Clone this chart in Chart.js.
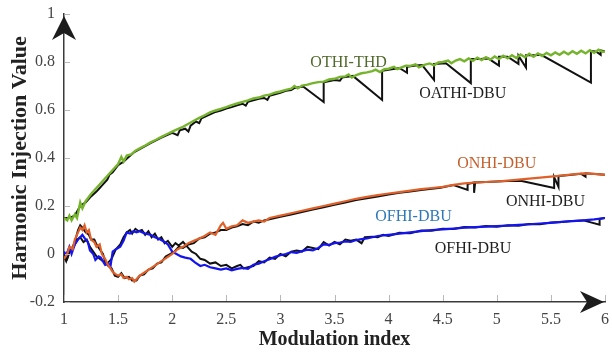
<!DOCTYPE html>
<html>
<head>
<meta charset="utf-8">
<script src="https://cdn.jsdelivr.net/npm/chart.js@4.4.0/dist/chart.umd.min.js"></script>
<style>
  html, body { margin: 0; padding: 0; background: #fff; }
</style>
</head>
<body>
<canvas id="hiChart" width="612" height="352"></canvas>
<script>
// OTHI-THD (green)
var thdX = [1.00,1.03,1.05,1.07,1.10,1.12,1.15,1.17,1.20,1.25,1.30,1.35,1.40,1.45,1.50,1.53,1.55,1.58,1.62,1.66,1.70,1.75,1.80,1.85,1.90,1.95,
  2.00,2.05,2.10,2.15,2.20,2.25,2.30,2.35,2.40,2.45,2.50,2.55,2.60,2.65,2.70,2.75,2.80,2.85,2.90,2.95,
  3.00,3.05,3.10,3.13,3.16,3.20,3.25,3.30,3.35,3.40,3.45,3.50,3.55,3.60,3.63,3.66,3.70,3.75,3.80,3.85,3.88,3.92,3.96,
  4.00,4.05,4.08,4.12,4.16,4.20,4.25,4.28,4.33,4.38,4.42,4.46,4.50,4.55,4.58,4.62,4.66,4.70,4.74,4.78,4.82,4.86,4.90,4.94,4.98,
  5.02,5.06,5.10,5.14,5.18,5.22,5.26,5.30,5.34,5.38,5.42,5.46,5.50,5.54,5.58,5.62,5.66,5.70,5.74,5.78,5.82,5.86,5.90,5.94,5.98,6.00];
var thdY = [.150,.140,.160,.140,.165,.150,.215,.190,.220,.250,.275,.300,.325,.350,.375,.405,.385,.410,.415,.430,.440,.452,.465,.476,.488,.499,
  .510,.520,.530,.543,.555,.567,.578,.590,.598,.605,.612,.620,.627,.634,.640,.648,.652,.660,.664,.672,
  .677,.684,.689,.700,.690,.702,.706,.712,.716,.718,.727,.730,.738,.740,.748,.735,.745,.753,.757,.762,.768,.758,.770,
  .772,.780,.770,.778,.785,.784,.790,.778,.788,.794,.786,.798,.800,.806,.795,.806,.812,.803,.815,.805,.818,.808,.820,.810,.823,
  .812,.826,.815,.828,.817,.831,.820,.834,.822,.836,.825,.838,.828,.840,.830,.843,.832,.845,.834,.847,.836,.849,.838,.851,.842,.845];

// OATHI-DBU (black, upper)
var athiX = [1.00,1.05,1.10,1.15,1.20,1.25,1.30,1.33,1.35,1.40,1.42,1.45,1.50,1.55,1.60,1.65,1.70,1.80,1.90,2.00,2.05,2.07,2.12,2.15,2.17,2.22,2.25,2.27,
  2.35,2.40,2.45,2.50,2.55,2.60,2.65,2.68,2.70,2.80,2.85,2.88,2.90,3.00,3.05,3.10,3.13,3.21,3.40,3.40,3.50,3.55,3.57,3.60,3.67,3.94,3.94,
  4.00,4.10,4.17,4.17,4.25,4.31,4.42,4.42,4.53,4.76,4.76,4.85,4.92,5.02,5.02,5.10,5.20,5.20,5.27,5.27,5.35,5.41,5.87,5.87,5.92,5.96,5.96,6.00];
var athiY = [.150,.150,.160,.200,.215,.240,.260,.275,.285,.310,.330,.340,.370,.385,.405,.425,.437,.462,.485,.505,.495,.515,.522,.510,.535,.552,.545,.565,
  .582,.592,.598,.606,.612,.620,.626,.618,.634,.647,.650,.642,.659,.672,.680,.683,.692,.698,.633,.716,.725,.722,.735,.737,.742,.642,.763,
  .768,.775,.755,.780,.785,.787,.725,.792,.795,.712,.812,.812,.815,.785,.822,.822,.792,.826,.777,.828,.828,.830,.714,.846,.843,.830,.848,.845];

// ONHI-DBU (orange)
var onhiX = [1.00,1.03,1.05,1.08,1.10,1.13,1.15,1.17,1.19,1.21,1.23,1.25,1.28,1.30,1.33,1.35,1.38,1.40,1.43,1.45,1.48,1.50,1.53,1.55,1.58,1.60,1.63,1.65,1.68,
  1.70,1.75,1.80,1.85,1.90,1.95,2.00,2.05,2.10,2.15,2.20,2.25,2.30,2.35,2.40,2.45,2.47,2.50,2.55,2.60,2.65,2.70,2.75,2.80,2.85,2.90,2.95,
  3.00,3.10,3.20,3.30,3.40,3.50,3.60,3.70,3.80,3.90,4.00,4.10,4.20,4.30,4.40,4.50,4.60,4.70,4.80,4.90,5.00,5.10,5.20,5.30,5.40,5.50,5.60,5.70,5.80,5.90,6.00];
var onhiY = [-.020,.000,.030,.020,.060,.090,.110,.100,.120,.090,.100,.060,.050,.030,.040,.000,-.020,-.040,-.060,-.075,-.085,-.090,-.085,-.100,-.095,-.105,-.100,-.115,-.100,
  -.090,-.075,-.060,-.045,-.030,-.015,.000,.020,.030,.045,.055,.065,.075,.090,.080,.120,.130,.105,.115,.120,.140,.130,.135,.140,.135,.150,.155,
  .160,.170,.180,.190,.200,.210,.220,.230,.238,.245,.252,.258,.264,.270,.275,.280,.288,.294,.298,.300,.302,.306,.310,.314,.318,.322,.327,.332,.336,.334,.330];

// ONHI-DBU (black, middle)
var onhiDbuX = [1.00,1.02,1.05,1.08,1.10,1.13,1.15,1.17,1.20,1.23,1.25,1.28,1.30,1.33,1.36,1.38,1.41,1.44,1.47,1.50,1.53,1.56,1.60,1.63,1.67,1.70,1.74,1.78,1.82,1.86,1.90,1.94,1.98,
  2.02,2.06,2.10,2.15,2.20,2.25,2.30,2.35,2.40,2.45,2.50,2.55,2.60,2.65,2.70,2.75,2.80,2.85,2.90,2.95,
  3.00,3.10,3.20,3.30,3.40,3.50,3.60,3.70,3.80,3.90,4.00,4.10,4.20,4.30,4.40,4.48,4.60,4.73,4.73,4.79,4.79,4.80,4.90,5.00,5.10,5.22,5.53,5.53,5.57,5.57,5.65,5.78,5.82,5.82,6.00];
var onhiDbuY = [-.010,-.030,.010,.030,.050,.100,.120,.110,.090,.080,.060,.060,.040,.020,.000,-.030,-.050,-.060,-.090,-.095,-.080,-.100,-.095,-.110,-.110,-.090,-.085,-.065,-.060,-.040,-.035,-.010,.000,
  .010,.030,.025,.040,.045,.065,.070,.085,.090,.100,.100,.110,.115,.125,.120,.135,.130,.140,.145,.150,
  .155,.165,.175,.185,.195,.205,.215,.225,.232,.240,.248,.255,.260,.267,.272,.276,.287,.267,.292,.298,.255,.298,.300,.302,.304,.305,.275,.320,.280,.325,.328,.334,.322,.336,.330];

// OFHI-DBU (blue)
var ofhiX = [1.00,1.02,1.05,1.07,1.10,1.13,1.17,1.20,1.22,1.24,1.27,1.29,1.32,1.34,1.38,1.41,1.43,1.45,1.48,1.52,1.55,1.58,1.61,1.64,1.67,1.70,1.75,1.80,1.84,1.89,1.93,1.96,
  2.00,2.04,2.08,2.12,2.17,2.21,2.26,2.30,2.35,2.40,2.45,2.50,2.55,2.60,2.65,2.70,2.75,2.80,2.85,2.90,2.95,
  3.00,3.05,3.10,3.15,3.20,3.25,3.30,3.35,3.40,3.45,3.50,3.55,3.60,3.65,3.70,3.75,3.80,3.85,3.90,3.95,
  4.00,4.10,4.20,4.30,4.40,4.50,4.60,4.70,4.80,4.90,5.00,5.10,5.20,5.30,5.40,5.50,5.60,5.70,5.80,5.90,6.00];
var ofhiY = [.010,-.005,.030,.000,.040,.060,.080,.060,.050,.015,.000,-.025,-.010,-.015,-.045,-.040,-.050,.010,.020,.030,.055,.090,.085,.095,.090,.095,.085,.080,.070,.060,.050,.040,
  .010,.000,-.010,-.015,-.020,-.035,-.050,-.045,-.055,-.060,-.065,-.060,-.068,-.062,-.058,-.062,-.045,-.040,-.030,-.022,-.012,
  -.005,.000,.008,.005,.012,.018,.015,.025,.040,.038,.045,.048,.052,.050,.058,.062,.065,.070,.075,.078,
  .080,.085,.090,.095,.100,.103,.106,.110,.112,.114,.116,.118,.121,.124,.127,.130,.134,.137,.140,.144,.150];

// OFHI-DBU (black, lower)
var ofhiDbuX = [1.00,1.03,1.06,1.09,1.12,1.15,1.18,1.21,1.24,1.27,1.30,1.33,1.36,1.40,1.44,1.48,1.52,1.55,1.58,1.61,1.63,1.66,1.69,1.72,1.75,1.78,1.81,1.84,1.87,1.90,1.93,1.96,
  2.00,2.03,2.06,2.10,2.14,2.18,2.22,2.26,2.30,2.35,2.40,2.45,2.50,2.55,2.60,2.63,2.66,2.70,2.75,2.80,2.85,2.90,2.95,
  3.00,3.05,3.10,3.15,3.20,3.25,3.30,3.35,3.40,3.45,3.50,3.55,3.60,3.65,3.70,3.75,3.78,3.85,3.90,3.95,
  4.00,4.10,4.20,4.30,4.40,4.50,4.60,4.70,4.80,4.90,5.00,5.10,5.20,5.30,5.40,5.50,5.60,5.70,5.80,5.95,5.95,6.00];
var ofhiDbuY = [.000,-.020,.020,.030,.060,.070,.050,.060,.030,.010,-.010,-.020,-.030,-.040,-.020,.020,.040,.070,.090,.100,.085,.105,.095,.100,.080,.095,.070,.085,.060,.070,.045,.055,
  .030,.045,.035,.050,.030,.010,.000,-.020,-.025,-.040,-.035,-.050,-.045,-.060,-.050,-.045,-.060,-.055,-.050,-.030,-.035,-.015,-.020,
  .000,-.010,.010,.015,.010,.030,.025,.020,.050,.035,.050,.040,.060,.055,.060,.045,.070,.072,.070,.080,
  .075,.088,.086,.098,.097,.105,.104,.112,.110,.117,.114,.120,.118,.125,.124,.131,.133,.138,.140,.122,.146,.150];

var xTicks = [1, 1.5, 2, 2.5, 3, 3.5, 4, 4.5, 5, 5.5, 6];
var yTicks = [-0.2, 0, 0.2, 0.4, 0.6, 0.8, 1];
var curveNames = ['OTHI-THD', 'OATHI-DBU', 'ONHI-DBU', 'ONHI-DBU', 'OFHI-DBU', 'OFHI-DBU'];

function pts(xs, ys) {
  return xs.map(function (x, i) { return { x: x, y: ys[i] }; });
}

function curve(data, color, width) {
  return { data: data, borderColor: color, borderWidth: width, pointRadius: 0, pointHoverRadius: 0,
           showLine: true, tension: 0, fill: false };
}

// inward tick marks, arrowheads and curve names
var decorations = {
  id: 'decorations',
  afterDraw: function (chart) {
    var ctx = chart.ctx, a = chart.chartArea;
    var xs = chart.scales.x, ys = chart.scales.y;
    ctx.save();
    ctx.strokeStyle = '#b8b8b8';
    ctx.lineWidth = 1;
    ctx.beginPath();
    yTicks.forEach(function (v) {
      var py = Math.round(ys.getPixelForValue(v)) + 0.5;
      ctx.moveTo(a.left + 1, py); ctx.lineTo(a.left + 6, py);
    });
    xTicks.forEach(function (v) {
      var px = Math.round(xs.getPixelForValue(v)) + 0.5;
      ctx.moveTo(px, a.bottom - 1); ctx.lineTo(px, a.bottom - 7);
    });
    ctx.stroke();

    ctx.fillStyle = '#1c1c1c';
    ctx.beginPath();
    ctx.moveTo(a.left, a.top + 2);
    ctx.lineTo(a.left + 12, a.top + 26);
    ctx.lineTo(a.left, a.top + 19);
    ctx.lineTo(a.left - 12, a.top + 26);
    ctx.closePath();
    ctx.fill();
    ctx.beginPath();
    ctx.moveTo(a.right - 1, a.bottom);
    ctx.lineTo(a.right - 25, a.bottom - 11);
    ctx.lineTo(a.right - 18, a.bottom);
    ctx.lineTo(a.right - 25, a.bottom + 11);
    ctx.closePath();
    ctx.fill();

    var spots = [[3.63, 0.796, '#50692a'], [4.685, 0.667, '#1e1e1e'], [5.0, 0.375, '#c4602c'],
                 [5.45, 0.217, '#1e1e1e'], [4.23, 0.154, '#2f78b8'], [4.78, 0.021, '#1e1e1e']];
    ctx.font = '16px "Liberation Serif", serif';
    ctx.textAlign = 'center';
    ctx.textBaseline = 'middle';
    curveNames.forEach(function (name, i) {
      ctx.fillStyle = spots[i][2];
      ctx.fillText(name, xs.getPixelForValue(spots[i][0]), ys.getPixelForValue(spots[i][1]));
    });
    ctx.restore();
  }
};

var tickFont = { family: '"Liberation Serif", serif', size: 16 };
var titleFont = { family: '"Liberation Serif", serif', size: 20, weight: 'bold' };

new Chart(document.getElementById('hiChart').getContext('2d'), {
  type: 'scatter',
  data: {
    datasets: [
      curve(pts(thdX, thdY), '#76b42d', 2.4),
      curve(pts(onhiX, onhiY), '#e0602a', 2.2),
      curve(pts(ofhiX, ofhiY), '#1414ee', 2.2),
      curve(pts(athiX, athiY), '#111111', 2),
      curve(pts(onhiDbuX, onhiDbuY), '#111111', 2),
      curve(pts(ofhiDbuX, ofhiDbuY), '#111111', 2)
    ]
  },
  options: {
    responsive: false,
    animation: false,
    layout: { autoPadding: false, padding: { top: 14, right: 7, left: 0, bottom: 0 } },
    plugins: { legend: { display: false }, tooltip: { enabled: false } },
    scales: {
      x: {
        type: 'linear', min: 1, max: 6,
        afterBuildTicks: function (s) { s.ticks = xTicks.map(function (v) { return { value: v }; }); },
        afterFit: function (s) { s.height = 50; s.paddingLeft = 0; s.paddingRight = 0; },
        grid: { display: false, drawTicks: false },
        border: { display: true, color: '#3a3a3a', width: 1.5 },
        ticks: { padding: 8, color: '#444', font: tickFont, maxRotation: 0, callback: function (v) { return String(v); } },
        title: { display: true, text: 'Modulation index', color: '#222', font: titleFont, padding: { top: 0, bottom: 0 } }
      },
      y: {
        type: 'linear', min: -0.2, max: 1,
        afterBuildTicks: function (s) { s.ticks = yTicks.map(function (v) { return { value: v }; }); },
        afterFit: function (s) { s.width = 64; s.paddingTop = 0; s.paddingBottom = 0; },
        grid: { display: false, drawTicks: false },
        border: { display: true, color: '#3a3a3a', width: 1.5 },
        ticks: { padding: 9, color: '#444', font: tickFont, callback: function (v) { return String(v); } },
        title: { display: true, text: 'Harmonic Injection Value', color: '#222',
                 font: { family: '"Liberation Serif", serif', size: 22, weight: 'bold' }, padding: { top: 7, bottom: 0 } }
      }
    }
  },
  plugins: [decorations]
});
</script>
</body>
</html>
